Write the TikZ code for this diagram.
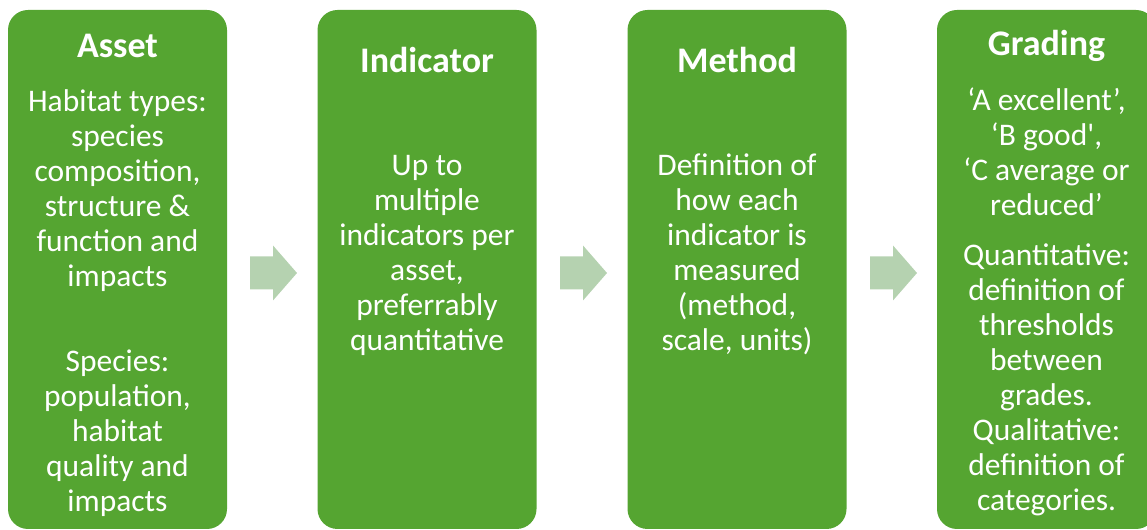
\documentclass[tikz,border=0pt]{standalone}
\usepackage{fontspec}
\setmainfont{Carlito}[Ligatures=TeXOff]
\definecolor{stagegreen}{RGB}{85,165,49}
\definecolor{flowgreen}{RGB}{181,210,176}
\tikzset{
  stage/.style={fill=stagegreen, rounded corners=15pt, minimum width=164.25pt, minimum height=389.25pt, inner sep=0pt},
  stagetitle/.style={text=white, font=\fontsize{27}{30}\selectfont\bfseries, anchor=base, inner sep=0pt},
  stagetext/.style={text=white, font=\fontsize{23.6}{26.25}\selectfont, align=center, anchor=base, inner sep=0pt},
  flow/.style={fill=flowgreen}
}
\newcommand{\flowarrow}[1]{\fill[flow, shift={#1}] (-23.5,-16.5) -- (-0.5,-16.5) -- (-0.5,-27.5) -- (23.5,0) -- (-0.5,27.5) -- (-0.5,16.5) -- (-23.5,16.5) -- cycle;}
\begin{document}
\begin{tikzpicture}[x=0.75pt,y=0.75pt,yscale=-1,xscale=1]
\useasboundingbox (0,0) rectangle (1147,530);

%Rounded Rect
\node[stage] (asset) at (117.5,269.5) {};
\node[stage] (indicator) at (427,269.5) {};
\node[stage] (method) at (737,269.5) {};
\node[stage] (grading) at (1046.5,269.5) {};

%Right Arrow
\flowarrow{(273.5,273)}
\flowarrow{(583.5,273)}
\flowarrow{(893.5,273)}

% Text Node (base = last line)
\node[stagetitle] (assettitle) at (117.5,58) {Asset};
% Text Node
\node[stagetext] (assethabitat) at (117.5,287) {Habitat types:\\species\\composition,\\structure \&\\function and\\impacts};
% Text Node
\node[stagetext] (assetspecies) at (117.5,512) {Species:\\population,\\habitat\\quality and\\impacts};

% Text Node
\node[stagetitle] (indicatortitle) at (427,73) {Indicator};
% Text Node
\node[stagetext] (indicatortext) at (427,351) {Up to\\multiple\\indicators per\\asset,\\preferrably\\quantitative};

% Text Node
\node[stagetitle] (methodtitle) at (737,73) {Method};
% Text Node
\node[stagetext] (methodtext) at (737,351) {Definition of\\how each\\indicator is\\measured\\(method,\\scale, units)};

% Text Node
\node[stagetitle] (gradingtitle) at (1046.5,56) {Grading};
% Text Node
\node[stagetext] (gradingscale) at (1046.5,216) {‘A excellent’,\\‘B good',\\‘C average or\\reduced’};
% Text Node
\node[stagetext] (gradingrule) at (1046.5,511) {Quantitative:\\definition of\\thresholds\\between\\grades.\\Qualitative:\\definition of\\categories.};

\end{tikzpicture}
\end{document}
